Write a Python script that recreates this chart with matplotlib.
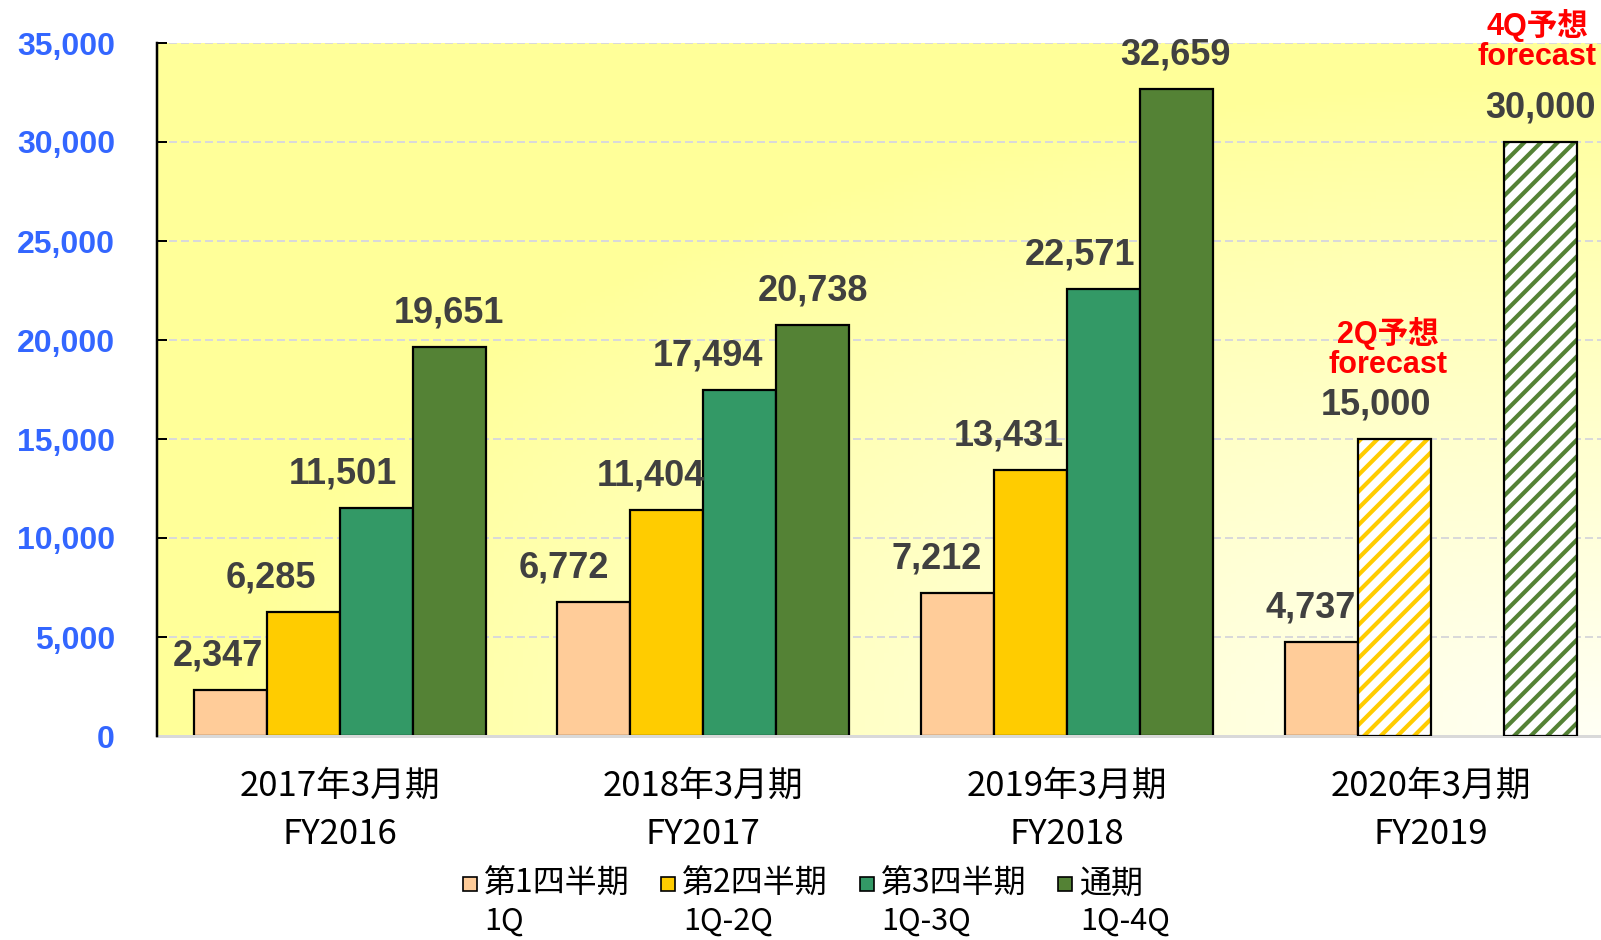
import numpy as np
import matplotlib
matplotlib.use("Agg")
import matplotlib.pyplot as plt
from matplotlib.patches import Rectangle

DPI = 200
PT = 72 / DPI  # points per output pixel

# ---- data -------------------------------------------------------------
periods = ["2017年3月期", "2018年3月期", "2019年3月期", "2020年3月期"]
fiscal_years = ["FY2016", "FY2017", "FY2018", "FY2019"]
series_jp = ["第1四半期", "第2四半期", "第3四半期", "通期"]
series_en = ["1Q", "1Q-2Q", "1Q-3Q", "1Q-4Q"]
q1 = [2347, 6772, 7212, 4737]
q2 = [6285, 11404, 13431, 15000]
q3 = [11501, 17494, 22571, None]
q4 = [19651, 20738, 32659, 30000]
# (series index, group index) -> forecast note
forecast_notes = {(1, 3): ("2Q予想", "forecast"), (3, 3): ("4Q予想", "forecast")}
y_ticks = [0, 5000, 10000, 15000, 20000, 25000, 30000, 35000]

# ---- style ------------------------------------------------------------
colors = ["#FFCC99", "#FFCC00", "#339966", "#548235"]
label_color = "#404040"
tick_blue = "#3366FF"
# horizontal nudge of each value label, in pixels (series x group)
label_dx = [[-12, -30, -21, -11],
            [-32, -16, -22, -18],
            [-33, -32, -24, 0],
            [0, 0, -1, 0]]
# vertical position of forecast note lines above bar top, in pixels
note_dy = {(1, 3): (106, 74), (3, 3): (116, 85)}
note_dx = {(1, 3): -6, (3, 3): -3}

plt.rcParams["hatch.linewidth"] = 1.5
CJK = ["Noto Sans CJK JP", "DejaVu Sans"]
NUM = ["Liberation Sans Narrow", "DejaVu Sans Condensed", "Liberation Sans"]

fig = plt.figure(figsize=(1601 / DPI, 940 / DPI), dpi=DPI)
ax = fig.add_axes([157 / 1601, 1 - 736 / 940, 1 - 157 / 1601, (736 - 43) / 940])

# background gradient: yellow fading to near white toward bottom-right
gx, gy = np.meshgrid(np.linspace(0, 1, 300), np.linspace(0, 1, 200))
dist = np.sqrt((1 - gx) ** 2 + (1 - gy) ** 2)
t = np.clip(1 - dist / 0.95, 0, 1) ** 0.9
top = np.array([1.0, 1.0, 0.6])
end = np.array([1.0, 1.0, 0.96])
img = top[None, None, :] * (1 - t[..., None]) + end[None, None, :] * t[..., None]
ax.imshow(img, extent=(0, 1, 0, 1), transform=ax.transAxes, aspect="auto",
          zorder=0, origin="upper")

series = [q1, q2, q3, q4]
width = 0.2007
x = np.arange(len(periods))
for si, vals in enumerate(series):
    xpos = x + (si - 1.5) * width
    for gi, v in enumerate(vals):
        if v is None:
            continue
        if (si, gi) in forecast_notes:
            ax.bar(xpos[gi], v, width, color="white", edgecolor=colors[si],
                   hatch="////", linewidth=0, zorder=2)
            ax.bar(xpos[gi], v, width, fill=False, edgecolor="black",
                   linewidth=0.8, zorder=3)
            l1, l2 = forecast_notes[(si, gi)]
            dy1, dy2 = note_dy[(si, gi)]
            for txt, dy in ((l1, dy1), (l2, dy2)):
                ax.annotate(txt, (xpos[gi], v),
                            xytext=(note_dx[(si, gi)] * PT, dy * PT),
                            textcoords="offset points", ha="center", va="center",
                            fontsize=11, fontweight="bold", color="#FF0000",
                            family=["Liberation Sans", "Noto Sans CJK JP"])
        else:
            ax.bar(xpos[gi], v, width, color=colors[si], edgecolor="black",
                   linewidth=0.8, zorder=2)
        ax.annotate(f"{v:,}", (xpos[gi], v),
                    xytext=(label_dx[si][gi] * PT, 34 * PT),
                    textcoords="offset points", ha="center", va="center",
                    fontsize=13, fontweight="bold", color=label_color,
                    family=NUM)

ax.set_xlim(-0.502, 3.468)
ax.set_ylim(0, 35000)
ax.set_yticks(y_ticks)
ax.set_yticklabels([f"{v:,}" for v in y_ticks], color=tick_blue, fontsize=11.5,
                   fontweight="bold", family="Liberation Sans")
ax.tick_params(axis="y", direction="in", length=10 * PT, width=2 * PT,
               pad=42 * PT, colors="black", labelcolor=tick_blue)
ax.set_xticks([])
ax.grid(axis="y", color="#D9D9D9", linestyle=(0, (4, 2)), linewidth=2 * PT)
ax.set_axisbelow(True)
for s in ("top", "right"):
    ax.spines[s].set_visible(False)
ax.spines["left"].set_linewidth(2.5 * PT)
ax.spines["left"].set_zorder(4)
ax.spines["bottom"].set_color("#D9D9D9")
ax.spines["bottom"].set_linewidth(3 * PT)

# two-line category labels
xt = ax.get_xaxis_transform()
for gi in range(len(periods)):
    ax.text(x[gi], -50 / 693, periods[gi], transform=xt, ha="center",
            va="center", fontsize=12.5, family=CJK)
    ax.text(x[gi], -98 / 693, fiscal_years[gi], transform=xt, ha="center",
            va="center", fontsize=12.5, family=CJK)

# legend drawn by hand: square + Japanese name, English on a second line
for i in range(4):
    x0 = 462.5 + 198.5 * i
    fig.patches.append(Rectangle((x0 / 1601, 1 - 891 / 940), 14 / 1601, 14 / 940,
                                 transform=fig.transFigure, facecolor=colors[i],
                                 edgecolor="black", linewidth=0.6))
    fig.text((x0 + 21) / 1601, 1 - 884 / 940, series_jp[i], ha="left",
             va="center", fontsize=11.5, family=CJK)
    fig.text((x0 + 22) / 1601, 1 - 921 / 940, series_en[i], ha="left",
             va="center", fontsize=11, family=CJK)

fig.savefig("out.png", dpi=DPI)
